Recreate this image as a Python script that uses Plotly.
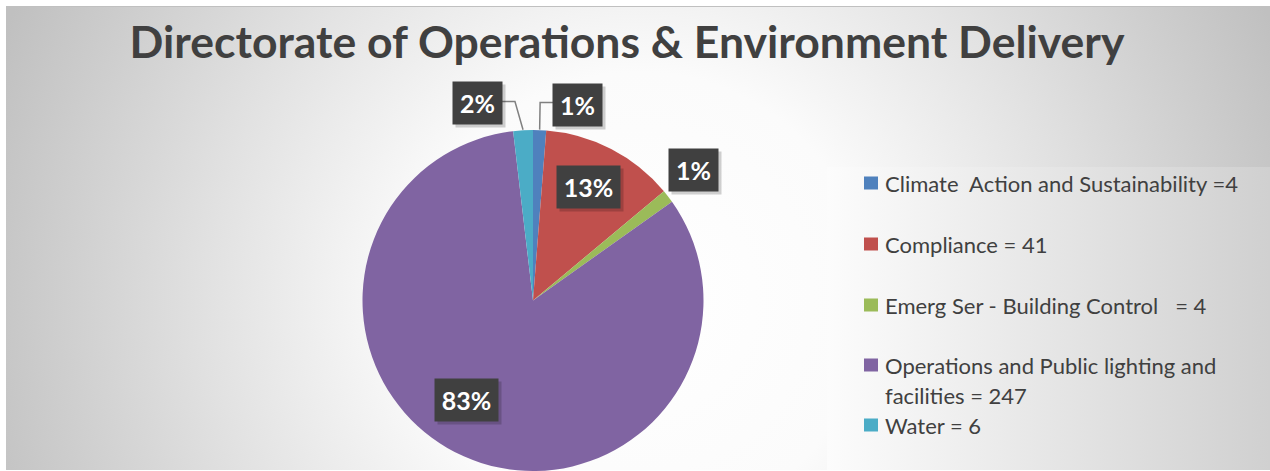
import base64
import math
import plotly.graph_objects as go

# ---------------- data ----------------
categories = [
    "Climate  Action and Sustainability =4",
    "Compliance = 41",
    "Emerg Ser - Building Control   = 4",
    "Operations and Public lighting and<br>facilities = 247",
    "Water = 6",
]
values = [4, 41, 4, 268, 6]
colors = ["#4F81BD", "#C0504D", "#9BBB59", "#8064A2", "#4BACC6"]
title_text = "Directorate of Operations & Environment Delivery"

# ---------------- geometry / style ----------------
W, H = 1270, 471
CX, R = 533, 171           # pie centre x and radius in px
DOM_X = [(CX - R) / W, (CX + R) / W]
DOM_Y = [0.0, 341 / H]
CY = H - 341 / 2           # resulting pie centre y (px from top)

FONT = "Lato"
TXT = "#404040"

# label placement per slice: (radius factor, angle nudge in degrees), leader line?
label_place = [(1.175, 10.6, True), (0.74, -1.3, False), (1.21, -1.4, False),
               (0.70, 9.6, False), (1.197, -12.4, True)]


def px(x, y):
    return x / W, 1 - y / H


total = sum(values)
pct_text = [f"{round(v / total * 100)}%" for v in values]

# slice mid angles (clockwise from 12 o'clock)
mids = []
acc = 0
for v in values:
    mids.append((acc + v / 2) / total * 360)
    acc += v
mids = [m - 360 if m > 180 else m for m in mids]

fig = go.Figure(
    go.Pie(
        labels=[c.replace("<br>", " ") for c in categories],
        values=values,
        marker=dict(colors=colors, line=dict(width=0)),
        sort=False,
        direction="clockwise",
        rotation=0,
        textinfo="none",
        hoverinfo="label+percent",
        showlegend=False,
        domain=dict(x=DOM_X, y=DOM_Y),
    )
)

# ---------------- background (gradient) ----------------
svg = f'''<svg xmlns="http://www.w3.org/2000/svg" width="{W}" height="{H}" viewBox="0 0 {W} {H}">
<defs>
<radialGradient id="g" cx="640" cy="300" r="690" gradientUnits="userSpaceOnUse">
<stop offset="0" stop-color="#ffffff"/>
<stop offset="0.33" stop-color="#fbfbfb"/>
<stop offset="0.62" stop-color="#e2e2e2"/>
<stop offset="1" stop-color="#c0c0c0"/>
</radialGradient>
<linearGradient id="l" x1="827" y1="0" x2="1270" y2="0" gradientUnits="userSpaceOnUse">
<stop offset="0" stop-color="#fcfcfc"/>
<stop offset="1" stop-color="#d0d0d0"/>
</linearGradient>
</defs>
<rect width="{W}" height="{H}" fill="#ffffff"/>
<rect x="6" y="6" width="{W - 6}" height="464" fill="url(#g)"/>
<rect x="827" y="167" width="443" height="303" fill="url(#l)"/>
<line x1="6" y1="6.5" x2="{W}" y2="6.5" stroke="#c0c0c0" stroke-width="1"/>
</svg>'''
src = "data:image/svg+xml;base64," + base64.b64encode(svg.encode()).decode()

annotations = []
shapes = []

# ---------------- data labels ----------------
for i, (txt, mid) in enumerate(zip(pct_text, mids)):
    rf, nudge, leader = label_place[i]
    ang = math.radians(mid + nudge)
    bx = CX + rf * R * math.sin(ang)
    by = CY - rf * R * math.cos(ang)
    bw = 49 if len(txt) == 2 else 63
    bh = 42
    # shadow
    sx, sy = px(bx + 3, by + 3)
    annotations.append(dict(x=sx, y=sy, xref="paper", yref="paper", text=" ",
                            showarrow=False, width=bw, height=bh, borderpad=0,
                            bgcolor="rgba(0,0,0,0.18)", xanchor="center", yanchor="middle"))
    ax_, ay_ = px(bx, by)
    annotations.append(dict(x=ax_, y=ay_, xref="paper", yref="paper", text=f"<b>{txt}</b>",
                            showarrow=False, width=bw, height=bh, borderpad=0,
                            bgcolor="#404040", align="center", valign="middle",
                            font=dict(family=FONT, size=25, color="white"),
                            xanchor="center", yanchor="middle"))
    if leader:
        m = math.radians(mid)
        ex = CX + R * math.sin(m)
        ey = CY - R * math.cos(m)
        side = -1 if bx > ex else 1
        x0 = bx + side * bw / 2
        x1 = x0 + side * 13
        p0, p1, p2 = px(x0, by - 2), px(x1, by - 2), px(ex, ey)
        shapes.append(dict(type="path", xref="paper", yref="paper",
                           path=f"M{p0[0]},{p0[1]} L{p1[0]},{p1[1]} L{p2[0]},{p2[1]}",
                           line=dict(color="#808080", width=1.5)))

# ---------------- legend (drawn) ----------------
legend_rows = [183, 244, 305, 365, 425]
line_gap = 30
for cat, col, ry in zip(categories, colors, legend_rows):
    x0, y0 = px(864, ry - 6.5)
    x1, y1 = px(878, ry + 6.5)
    shapes.append(dict(type="rect", xref="paper", yref="paper", x0=x0, x1=x1, y0=y1, y1=y0,
                       fillcolor=col, line=dict(width=0)))
    for j, line in enumerate(cat.split("<br>")):
        tx, ty = px(883, ry + j * line_gap)
        annotations.append(dict(x=tx, y=ty, xref="paper", yref="paper",
                                text=line.replace("  ", " \u00a0"), showarrow=False,
                                xanchor="left", yanchor="middle",
                                font=dict(family=FONT, size=22, color=TXT)))

fig.update_layout(
    width=W, height=H,
    margin=dict(l=0, r=0, t=0, b=0),
    paper_bgcolor="white",
    title=dict(text=f"<b>{title_text}</b>", x=627 / W, xanchor="center",
               y=1 - 42 / H, yanchor="middle", yref="container",
               font=dict(family=FONT, size=44.5, color=TXT)),
    images=[dict(source=src, xref="paper", yref="paper", x=0, y=1, sizex=1, sizey=1,
                 xanchor="left", yanchor="top", sizing="stretch", layer="below")],
    annotations=annotations,
    shapes=shapes,
)

fig.write_html("out.html", config={"displayModeBar": False},
               post_script="document.body.style.margin='0';")
